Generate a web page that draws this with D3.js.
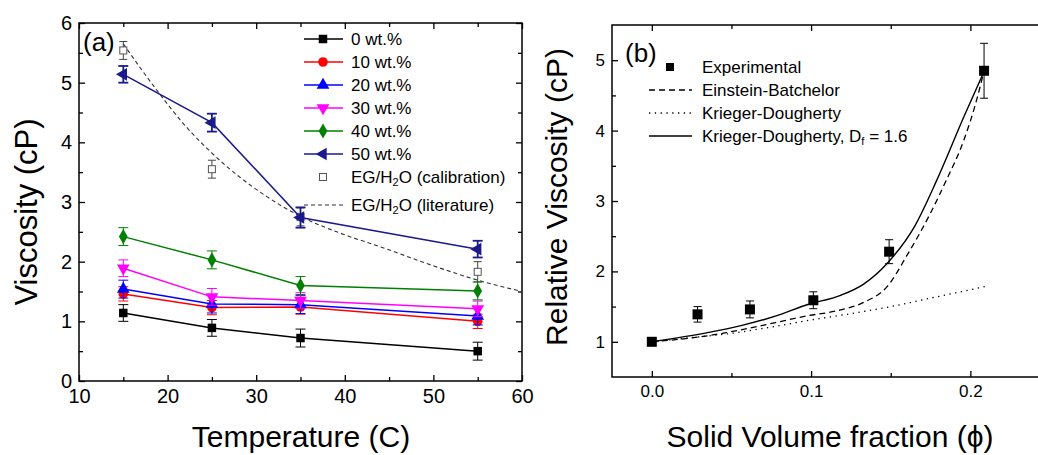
<!DOCTYPE html>
<html>
<head>
<meta charset="utf-8">
<title>Viscosity of EG/H2O suspensions</title>
<script src="https://d3js.org/d3.v7.min.js"></script>
<style>
body { margin: 0; background: #fff; }
svg text { font-family: Arial, "Liberation Sans", sans-serif; fill: #000; }
.axis path { display: none; }
.axis line { stroke: #000; stroke-width: 1.3; }
</style>
</head>
<body>
<svg id="chart" width="1038" height="455"></svg>
<script>
// ---- panel (a): viscosity vs temperature ----
var temps = [15, 25, 35, 55];
var seriesNames = ["0 wt.%", "10 wt.%", "20 wt.%", "30 wt.%", "40 wt.%", "50 wt.%"];
var visc0  = [1.14, 0.89, 0.72, 0.50];
var visc10 = [1.46, 1.23, 1.24, 1.00];
var visc20 = [1.54, 1.29, 1.28, 1.09];
var visc30 = [1.89, 1.41, 1.35, 1.21];
var visc40 = [2.42, 2.03, 1.60, 1.51];
var visc50 = [5.14, 4.33, 2.74, 2.21];
var err0  = [0.14, 0.14, 0.15, 0.15];
var err10 = [0.12, 0.12, 0.12, 0.12];
var err20 = [0.15, 0.15, 0.15, 0.15];
var err30 = [0.14, 0.14, 0.13, 0.13];
var err40 = [0.15, 0.15, 0.15, 0.15];
var err50 = [0.14, 0.15, 0.17, 0.14];
var calibVisc = [5.54, 3.55, 2.75, 1.83];
var calibErr  = [0.15, 0.15, 0.15, 0.17];
var litTemps = [15, 18.8, 22.1, 25, 31.2, 35, 40, 44, 50, 55, 60];
var litVisc  = [5.65, 4.87, 4.26, 3.82, 3.09, 2.76, 2.45, 2.25, 1.93, 1.69, 1.50];

// ---- panel (b): relative viscosity vs volume fraction ----
var expPhi  = [0.0, 0.0287, 0.0616, 0.1014, 0.149, 0.2086];
var expVisc = [1.0, 1.39, 1.46, 1.59, 2.28, 4.85];
var expErr  = [0.0, 0.11, 0.12, 0.12, 0.17, 0.39];
var ebPhi  = [0, 0.035, 0.056, 0.077, 0.098, 0.116, 0.133, 0.148, 0.160, 0.175, 0.185, 0.196, 0.204, 0.2086];
var ebVisc = [1.0, 1.085, 1.17, 1.27, 1.37, 1.44, 1.56, 1.79, 2.22, 2.83, 3.30, 3.87, 4.44, 4.85];
var kdPhi  = [0, 0.025, 0.05, 0.075, 0.1, 0.125, 0.15, 0.175, 0.2, 0.21];
var kdVisc = [1.0, 1.06, 1.12, 1.21, 1.31, 1.40, 1.50, 1.62, 1.74, 1.79];
var kdfPhi  = [0, 0.035, 0.056, 0.077, 0.098, 0.1185, 0.133, 0.148, 0.165, 0.179, 0.196, 0.2086];
var kdfVisc = [1.0, 1.13, 1.23, 1.36, 1.53, 1.66, 1.82, 2.12, 2.64, 3.30, 4.20, 4.84];

var svg = d3.select("#chart");

// ================= panel (a) =================
var ax = d3.scaleLinear().domain([10, 60]).range([79, 522]);
var ay = d3.scaleLinear().domain([0, 6]).range([381, 23]);

var colors = ["#000000", "#ff0000", "#0000ff", "#ff00ff", "#008000", "#1a1a8c"];
var symbols = [
  {type: d3.symbolSquare, size: 72, rot: 0},
  {type: d3.symbolCircle, size: 72, rot: 0},
  {type: d3.symbolTriangle, size: 70, rot: 0},
  {type: d3.symbolTriangle, size: 70, rot: 180},
  {type: d3.symbolDiamond, size: 66, rot: 0},
  {type: d3.symbolTriangle, size: 70, rot: -90}
];
var visc = [visc0, visc10, visc20, visc30, visc40, visc50];
var errs = [err0, err10, err20, err30, err40, err50];

function drawAxes(g, x, y, xMajor, xMinor, yMajor, yMinor, xFmt, fontSize) {
  var bottom = y.range()[0], top = y.range()[1];
  var left = x.range()[0], right = x.range()[1];
  g.append("g").attr("class", "axis").attr("transform", "translate(0," + bottom + ")")
    .call(d3.axisBottom(x).tickValues(xMajor).tickSizeInner(-6).tickSizeOuter(0).tickPadding(8).tickFormat(xFmt))
    .selectAll("text").style("font-size", fontSize + "px");
  g.append("g").attr("class", "axis").attr("transform", "translate(0," + bottom + ")")
    .call(d3.axisBottom(x).tickValues(xMinor).tickSizeInner(-4).tickSizeOuter(0).tickFormat(""));
  g.append("g").attr("class", "axis").attr("transform", "translate(0," + top + ")")
    .call(d3.axisTop(x).tickValues(xMajor).tickSizeInner(-6).tickSizeOuter(0).tickFormat(""));
  g.append("g").attr("class", "axis").attr("transform", "translate(0," + top + ")")
    .call(d3.axisTop(x).tickValues(xMinor).tickSizeInner(-4).tickSizeOuter(0).tickFormat(""));
  g.append("g").attr("class", "axis").attr("transform", "translate(" + left + ",0)")
    .call(d3.axisLeft(y).tickValues(yMajor).tickSizeInner(-6).tickSizeOuter(0).tickPadding(7).tickFormat(d3.format("d")))
    .selectAll("text").style("font-size", fontSize + "px");
  g.append("g").attr("class", "axis").attr("transform", "translate(" + left + ",0)")
    .call(d3.axisLeft(y).tickValues(yMinor).tickSizeInner(-4).tickSizeOuter(0).tickFormat(""));
  g.append("g").attr("class", "axis").attr("transform", "translate(" + right + ",0)")
    .call(d3.axisRight(y).tickValues(yMajor).tickSizeInner(-6).tickSizeOuter(0).tickFormat(""));
  g.append("g").attr("class", "axis").attr("transform", "translate(" + right + ",0)")
    .call(d3.axisRight(y).tickValues(yMinor).tickSizeInner(-4).tickSizeOuter(0).tickFormat(""));
  g.append("rect")
    .attr("x", left).attr("y", top)
    .attr("width", right - left).attr("height", bottom - top)
    .attr("fill", "none").attr("stroke", "#000").attr("stroke-width", 1.5);
}

var ga = svg.append("g");
drawAxes(ga, ax, ay, [10, 20, 30, 40, 50, 60], [15, 25, 35, 45, 55],
         [0, 1, 2, 3, 4, 5, 6], [0.5, 1.5, 2.5, 3.5, 4.5, 5.5], d3.format("d"), 20);

// literature curve
ga.append("path")
  .datum(litTemps.map(function(t, i) { return [t, litVisc[i]]; }))
  .attr("fill", "none").attr("stroke", "#333").attr("stroke-width", 1.1)
  .attr("stroke-dasharray", "4,3")
  .attr("d", d3.line().x(function(d) { return ax(d[0]); }).y(function(d) { return ay(d[1]); })
    .curve(d3.curveMonotoneX));

function errorBars(g, xs, ys, es, x, y, color, width, cap) {
  xs.forEach(function(xv, i) {
    if (!es[i]) return;
    var cx = x(xv), y1 = y(ys[i] - es[i]), y2 = y(ys[i] + es[i]);
    g.append("line").attr("x1", cx).attr("x2", cx).attr("y1", y1).attr("y2", y2)
      .attr("stroke", color).attr("stroke-width", width);
    [y1, y2].forEach(function(yy) {
      g.append("line").attr("x1", cx - cap).attr("x2", cx + cap).attr("y1", yy).attr("y2", yy)
        .attr("stroke", color).attr("stroke-width", width);
    });
  });
}

// calibration points
errorBars(ga, temps, calibVisc, calibErr, ax, ay, "#444", 1, 4);
ga.selectAll(".calib").data(temps).enter().append("rect")
  .attr("x", function(d) { return ax(d) - 3.5; })
  .attr("y", function(d, i) { return ay(calibVisc[i]) - 3.5; })
  .attr("width", 7).attr("height", 7)
  .attr("fill", "#fff").attr("stroke", "#555").attr("stroke-width", 1);

// series
var line = d3.line().x(function(d) { return ax(d[0]); }).y(function(d) { return ay(d[1]); });
seriesNames.forEach(function(name, s) {
  var pts = temps.map(function(t, i) { return [t, visc[s][i]]; });
  errorBars(ga, temps, visc[s], errs[s], ax, ay, colors[s], s === 5 ? 1.8 : 1, 5);
  ga.append("path").datum(pts)
    .attr("fill", "none").attr("stroke", colors[s]).attr("stroke-width", 1.5)
    .attr("d", line);
  ga.selectAll(".m" + s).data(pts).enter().append("path")
    .attr("transform", function(d) {
      return "translate(" + ax(d[0]) + "," + ay(d[1]) + ") rotate(" + symbols[s].rot + ")";
    })
    .attr("d", d3.symbol().type(symbols[s].type).size(symbols[s].size))
    .attr("fill", colors[s]);
});

// legend (a)
var legA = ga.append("g");
seriesNames.forEach(function(name, s) {
  var yy = 39 + s * 23;
  legA.append("line").attr("x1", 304).attr("x2", 343).attr("y1", yy).attr("y2", yy)
    .attr("stroke", colors[s]).attr("stroke-width", 1.5);
  legA.append("path")
    .attr("transform", "translate(323," + yy + ") rotate(" + symbols[s].rot + ")")
    .attr("d", d3.symbol().type(symbols[s].type).size(symbols[s].size))
    .attr("fill", colors[s]);
  legA.append("text").attr("x", 351).attr("y", yy).attr("dy", "0.36em")
    .style("font-size", "17px").text(name);
});
legA.append("rect").attr("x", 319.5).attr("y", 173.5).attr("width", 7).attr("height", 7)
  .attr("fill", "#fff").attr("stroke", "#555").attr("stroke-width", 1);
var calT = legA.append("text").attr("x", 351).attr("y", 177).attr("dy", "0.36em").style("font-size", "17px");
calT.append("tspan").text("EG/H");
calT.append("tspan").attr("baseline-shift", "-30%").style("font-size", "11px").text("2");
calT.append("tspan").text("O (calibration)");
legA.append("line").attr("x1", 304).attr("x2", 343).attr("y1", 205).attr("y2", 205)
  .attr("stroke", "#333").attr("stroke-width", 1.1).attr("stroke-dasharray", "4,3");
var litT = legA.append("text").attr("x", 351).attr("y", 205).attr("dy", "0.36em").style("font-size", "17px");
litT.append("tspan").text("EG/H");
litT.append("tspan").attr("baseline-shift", "-30%").style("font-size", "11px").text("2");
litT.append("tspan").text("O (literature)");

ga.append("text").attr("x", 83).attr("y", 51).style("font-size", "26px").text("(a)");
ga.append("text").attr("transform", "translate(37,212) rotate(-90)")
  .attr("text-anchor", "middle").style("font-size", "31px").text("Viscosity (cP)");
ga.append("text").attr("x", 301).attr("y", 447)
  .attr("text-anchor", "middle").style("font-size", "30px").text("Temperature (C)");

// ================= panel (b) =================
var bx = d3.scaleLinear().domain([-0.025, 0.25]).range([612, 1050]);
var by = d3.scaleLinear().domain([0.5, 5.5]).range([377, 25]);
var gb = svg.append("g");
drawAxes(gb, bx, by, [0, 0.1, 0.2], [0.05, 0.15, 0.25],
         [1, 2, 3, 4, 5], [1.5, 2.5, 3.5, 4.5], d3.format(".1f"), 17);

var lineB = d3.line().x(function(d) { return bx(d[0]); }).y(function(d) { return by(d[1]); })
  .curve(d3.curveMonotoneX);
function zip(a, b) { return a.map(function(v, i) { return [v, b[i]]; }); }

gb.append("path").datum(zip(kdPhi, kdVisc))
  .attr("fill", "none").attr("stroke", "#000").attr("stroke-width", 1.3)
  .attr("stroke-dasharray", "1.3,4.5").attr("d", lineB);
gb.append("path").datum(zip(ebPhi, ebVisc))
  .attr("fill", "none").attr("stroke", "#000").attr("stroke-width", 1.3)
  .attr("stroke-dasharray", "6,4").attr("d", lineB);
gb.append("path").datum(zip(kdfPhi, kdfVisc))
  .attr("fill", "none").attr("stroke", "#000").attr("stroke-width", 1.4)
  .attr("d", lineB);

errorBars(gb, expPhi, expVisc, expErr, bx, by, "#000", 1, 4);
gb.selectAll(".exp").data(expPhi).enter().append("rect")
  .attr("x", function(d) { return bx(d) - 5; })
  .attr("y", function(d, i) { return by(expVisc[i]) - 5; })
  .attr("width", 10).attr("height", 10).attr("fill", "#000");

// legend (b)
var legB = gb.append("g");
legB.append("rect").attr("x", 666).attr("y", 63).attr("width", 8).attr("height", 8).attr("fill", "#000");
var legBItems = [
  {label: "Einstein-Batchelor", dash: "6,4", y: 90},
  {label: "Krieger-Dougherty", dash: "1.3,4.5", y: 113},
  {label: null, dash: null, y: 136}
];
legB.append("text").attr("x", 702).attr("y", 67).attr("dy", "0.36em").style("font-size", "17px").text("Experimental");
legBItems.forEach(function(it) {
  legB.append("line").attr("x1", 649).attr("x2", 692).attr("y1", it.y).attr("y2", it.y)
    .attr("stroke", "#000").attr("stroke-width", 1.3)
    .attr("stroke-dasharray", it.dash);
  if (it.label) {
    legB.append("text").attr("x", 702).attr("y", it.y).attr("dy", "0.36em")
      .style("font-size", "17px").text(it.label);
  }
});
var kdT = legB.append("text").attr("x", 702).attr("y", 136).attr("dy", "0.36em").style("font-size", "17px");
kdT.append("tspan").text("Krieger-Dougherty, D");
kdT.append("tspan").attr("baseline-shift", "-30%").style("font-size", "11px").text("f");
kdT.append("tspan").text(" = 1.6");

gb.append("text").attr("x", 625).attr("y", 62).style("font-size", "26px").text("(b)");
gb.append("text").attr("transform", "translate(567,197) rotate(-90)")
  .attr("text-anchor", "middle").style("font-size", "30px").text("Relative Viscosity (cP)");
gb.append("text").attr("x", 830).attr("y", 447)
  .attr("text-anchor", "middle").style("font-size", "30px").text("Solid Volume fraction (\u03D5)");
</script>
</body>
</html>
